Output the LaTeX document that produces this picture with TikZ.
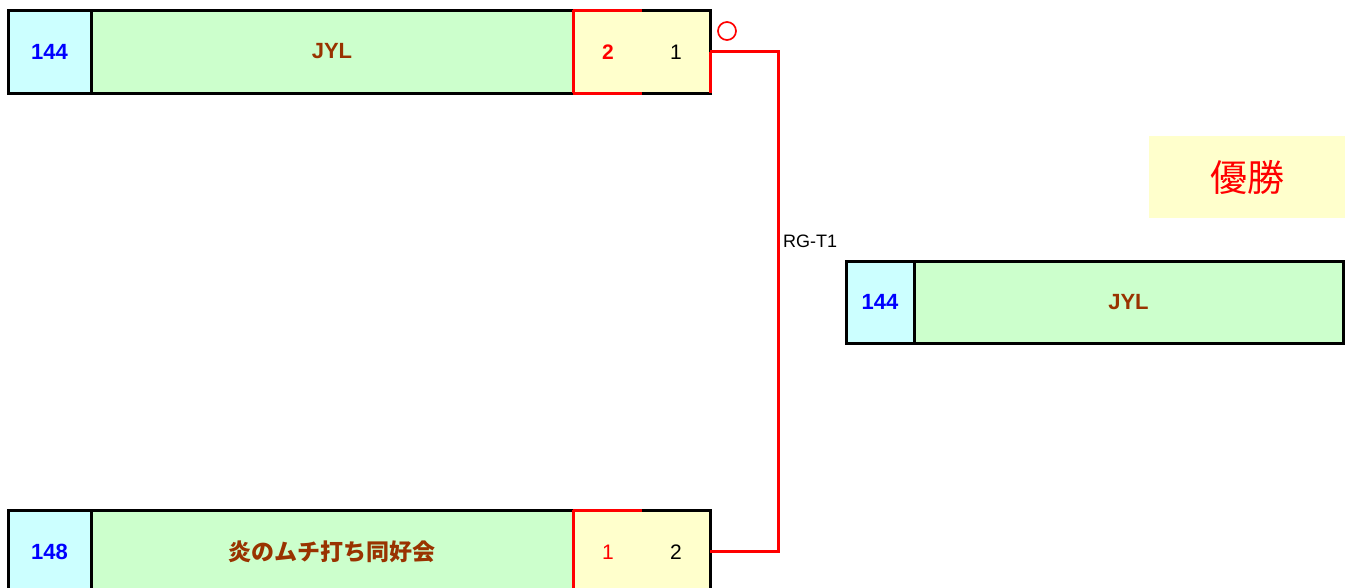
\documentclass[tikz,border=0pt]{standalone}
\usepackage{fontspec}
\setmainfont{Liberation Sans}
\newfontfamily\jpfont{Noto Sans CJK JP}
\definecolor{cyanf}{HTML}{CCFFFF}
\definecolor{greenf}{HTML}{CCFFCC}
\definecolor{yelf}{HTML}{FFFFCC}
\definecolor{brownt}{HTML}{993300}
\definecolor{redl}{HTML}{FF0000}
\definecolor{bluet}{HTML}{0000FF}
\begin{document}
\begin{tikzpicture}[x=1pt,y=-1pt,
  cell/.style={draw=black, line width=3pt, inner sep=0pt, outer sep=0pt, minimum height=83pt},
  seedcell/.style={cell, fill=cyanf, text=bluet, font=\fontsize{22}{26}\selectfont\bfseries},
  teamcell/.style={cell, fill=greenf, text=brownt, font=\fontsize{22}{26}\selectfont\bfseries},
  scorecell/.style={cell, fill=yelf},
  winscore/.style={text=redl, font=\fontsize{21}{25}\selectfont\bfseries, inner sep=0pt},
  losescore/.style={text=redl, font=\fontsize{21}{25}\selectfont, inner sep=0pt},
  oppscore/.style={text=black, font=\fontsize{21}{25}\selectfont, inner sep=0pt},
  redline/.style={draw=redl, line width=3pt},
]
\useasboundingbox (0,0) rectangle (1352,587);

% top row
\node[seedcell, minimum width=83pt] (ts) at (49.5,51.5) {144};
\node[teamcell, minimum width=482pt] (tt) at (332,51.5) {JYL};
\node[scorecell, minimum width=137pt] (ty) at (641.5,51.5) {};
\node[winscore] (tsa) at (608,52) {2};
\node[oppscore] (tsb) at (676,52) {1};

% bottom row
\node[seedcell, minimum width=83pt] (bs) at (49.5,551.5) {148};
\node[teamcell, minimum width=482pt] (bt) at (332,551.5) {\jpfont\fontsize{23}{27}\selectfont\bfseries 炎のムチ打ち同好会};
\node[scorecell, minimum width=137pt] (by) at (641.5,551.5) {};
\node[losescore] (bsa) at (608,552) {1};
\node[oppscore] (bsb) at (676,552) {2};

% red highlights
\draw[redline] (ty.north west) -- ++(69,0);
\draw[redline] (ty.south west) -- ++(69,0);
\draw[redline] (ty.north west) -- (ty.south west);
\draw[redline] (ty.east) -- (ty.south east);
\draw[redline] (by.north west) -- ++(69,0);
\draw[redline] (by.north west) -- (by.south west);

% connector
\coordinate (jn) at (778,51.5);
\draw[redline] (ty.east) -- (jn) |- (by.east);
\node[text=black, font=\fontsize{18}{21}\selectfont, inner sep=0pt, anchor=west] (lbl) at (783,241) {RG-T1};

% winner mark
\node[circle, draw=redl, line width=1.7pt, minimum size=18pt, inner sep=0pt] (mark) at (727,31) {};

% champion
\node[fill=yelf, minimum width=196pt, minimum height=82pt, inner sep=0pt, text=redl, font=\jpfont\fontsize{37}{42}\selectfont] (champ) at (1247,177) {優勝};
\node[seedcell, minimum width=68pt, minimum height=82pt] (rs) at (880,302) {144};
\node[teamcell, minimum width=429pt, minimum height=82pt] (rt) at (1128.5,302) {JYL};
\end{tikzpicture}
\end{document}
